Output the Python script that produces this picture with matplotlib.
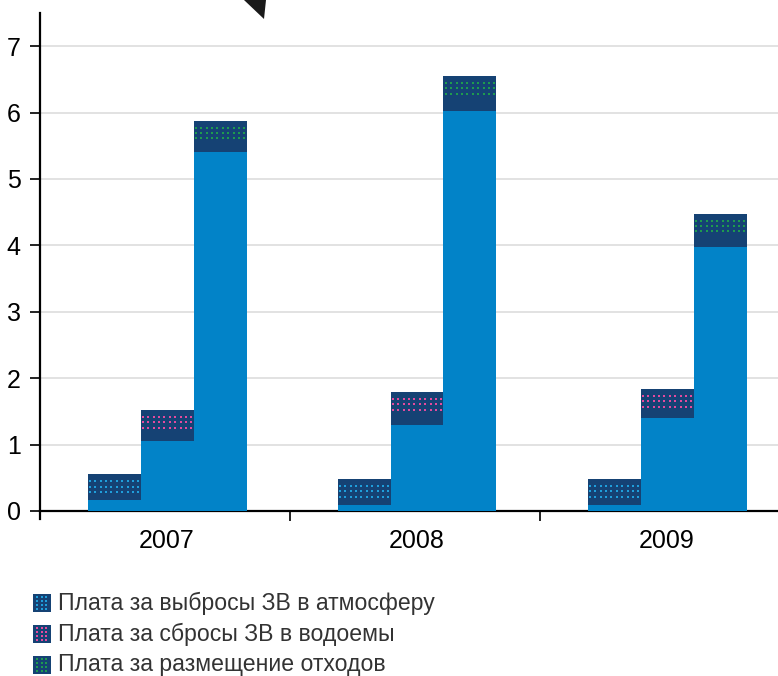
import matplotlib.pyplot as plt
from matplotlib.patches import Rectangle, Polygon
import numpy as np

plt.rcParams['font.family'] = ['Liberation Sans', 'DejaVu Sans']

years = ['2007', '2008', '2009']
series = ['Плата за выбросы ЗВ в атмосферу',
          'Плата за сбросы ЗВ в водоемы',
          'Плата за размещение отходов']
# lower (light) part of each bar and the dark cap on top, per series
base_vals = [[0.16, 0.09, 0.09],
             [1.06, 1.30, 1.40],
             [5.41, 6.02, 3.97]]
cap_vals = [[0.39, 0.39, 0.39],
            [0.46, 0.49, 0.44],
            [0.47, 0.53, 0.51]]

light = '#0283c8'
dark = '#154274'
dot_colors = ['#1f9fdc', '#e44a9e', '#1e9b4f']

W, H = 778, 676
fig = plt.figure(figsize=(W / 100, H / 100), dpi=100)
ax = fig.add_axes([40 / W, (H - 511) / H, 738 / W, 498 / H])

x = np.arange(len(years))
width = 0.212
offsets = [-width, 0, width]
shift = 0.008  # groups sit a touch right of the centre between ticks

for i in range(3):
    xs = x + shift + offsets[i]
    base = np.array(base_vals[i])
    cap = np.array(cap_vals[i])
    ax.bar(xs, base, width, color=light, linewidth=0, zorder=3)
    ax.bar(xs, cap, width, bottom=base, color=dark, linewidth=0, zorder=3)
    # three rows of dots near the top of the dark cap
    top = base + cap
    for xc, t in zip(xs, top):
        dx = xc - width / 2 + 0.009 + np.arange(10) * 0.0216
        for r in range(3):
            dy = np.full(10, t - 0.105 - r * 0.081)
            ax.scatter(dx, dy, s=3.2, marker='s', color=dot_colors[i],
                       linewidths=0, zorder=4)

ax.set_xlim(-0.5, -0.5 + 738 / 250)
ax.set_ylim(0, 7.5)
ax.set_yticks(range(8))
ax.yaxis.grid(True, color='#e2e2e2', linewidth=1.4, zorder=0)
ax.set_axisbelow(True)

ax.set_xticks((x[:-1] + x[1:]) / 2)
ax.set_xticklabels([])
ax.set_xticks(x + shift, minor=True)
ax.set_xticklabels(years, minor=True)
ax.tick_params(axis='x', which='major', direction='out', length=7, width=1.4, color='#222222')
ax.tick_params(axis='x', which='minor', length=0, pad=13, labelsize=18)
ax.tick_params(axis='y', direction='out', length=7, width=1.4, color='#222222',
               labelsize=18, pad=7)

for s in ['top', 'right']:
    ax.spines[s].set_visible(False)
ax.spines['left'].set_linewidth(1.6)
ax.spines['bottom'].set_linewidth(1.6)
ax.spines['left'].set_bounds(-0.12, 7.5)

# overlay in pixel coordinates for the legend and the corner marker
ov = fig.add_axes([0, 0, 1, 1])
ov.set_xlim(0, W)
ov.set_ylim(H, 0)
ov.axis('off')

ov.add_patch(Polygon([[244, 0], [266, 0], [264, 19]], closed=True,
                     color='#1a1a1a', linewidth=0))

rows_y = [603, 634, 665]
for i, name in enumerate(series):
    cy = rows_y[i]
    ov.add_patch(Rectangle((33, cy - 9), 18, 18, color=dark, linewidth=0))
    for cx in [37.5, 42, 46.5]:
        for ddy in [-6, -2, 2, 6]:
            ov.scatter(cx, cy + ddy, s=3.2, marker='s', color=dot_colors[i], linewidths=0)
    ov.text(58, cy, name, fontsize=16.6, color='#333333', va='center', ha='left')

fig.savefig('out.png', dpi=100)
